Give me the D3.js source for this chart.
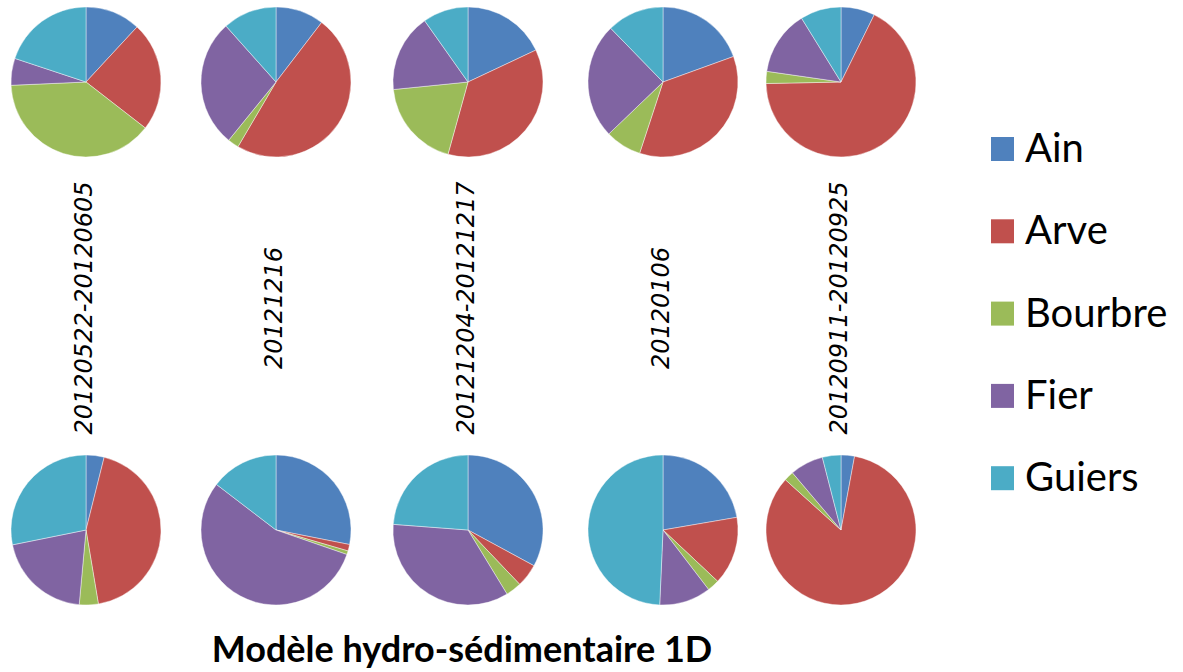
<!DOCTYPE html>
<meta charset="utf-8">
<style>
body { margin: 0; background: #fff; }
svg { display: block; }
.label {
  font: italic 24px "DejaVu Sans", Verdana, sans-serif;
  fill: #000;
}
.legend text {
  font: 40px Lato, "Open Sans", sans-serif;
  fill: #000;
}
.title {
  font: bold 36px Lato, "Open Sans", sans-serif;
  fill: #000;
}
</style>
<script src="https://d3js.org/d3.v7.min.js"></script>
<body>
<svg width="1183" height="672"></svg>
</body>
<script>

// data (percent of total)
var sources = ["Ain", "Arve", "Bourbre", "Fier", "Guiers"];
var dates = ["20120522-20120605", "20121216", "20121204-20121217", "20120106", "20120911-20120925"];

var topRow = [
  [11.9, 23.6, 38.8, 5.8, 19.9],
  [10.4, 48.0, 2.4, 27.5, 11.6],
  [18.0, 36.3, 19.1, 16.8, 9.8],
  [19.5, 35.6, 7.8, 24.9, 12.3],
  [7.3, 67.3, 2.6, 13.9, 8.8]
];

var bottomRow = [
  [3.9, 43.5, 4.1, 20.4, 28.2],
  [28.1, 1.4, 0.8, 55.1, 14.6],
  [32.9, 5.0, 3.4, 34.9, 23.8],
  [22.3, 14.7, 2.6, 11.1, 49.3],
  [2.9, 83.8, 2.1, 7.2, 4.0]
];

var colours = ["#4f81bd", "#c0504d", "#9bbb59", "#8064a2", "#4bacc6"];

// layout
var svg = d3.select("svg"),
    radius = 75,
    colX = [86, 276, 468, 663, 841],
    rowY = [82, 530],
    labelY = 308;

var color = d3.scaleOrdinal().domain(sources).range(colours);

var pie = d3.pie()
    .sort(null)
    .value(function(d) { return d; });

var arc = d3.arc()
    .innerRadius(0)
    .outerRadius(radius);

[topRow, bottomRow].forEach(function(row, r) {
  row.forEach(function(vals, i) {
    var g = svg.append("g")
        .attr("transform", "translate(" + colX[i] + "," + rowY[r] + ")");

    g.selectAll("path")
      .data(pie(vals))
      .enter().append("path")
        .attr("d", arc)
        .style("fill", function(d, j) { return color(sources[j]); })
        .style("stroke", "#fff")
        .style("stroke-width", 0.7)
        .style("stroke-opacity", 0.6);
  });
});

// rotated date labels between the rows
svg.selectAll("text.label")
  .data(dates)
  .enter().append("text")
    .attr("class", "label")
    .attr("text-anchor", "middle")
    .attr("transform", function(d, i) { return "translate(" + (colX[i] + 6) + "," + labelY + ") rotate(-90)"; })
    .text(function(d) { return d; });

// legend
var legend = svg.append("g")
    .attr("class", "legend")
    .attr("transform", "translate(991,137)");

var item = legend.selectAll("g")
  .data(sources)
  .enter().append("g")
    .attr("transform", function(d, i) { return "translate(0," + (i * 82.3) + ")"; });

item.append("rect")
    .attr("width", 23)
    .attr("height", 24)
    .style("fill", function(d) { return color(d); });

item.append("text")
    .attr("x", 34)
    .attr("y", 25)
    .text(function(d) { return d; });

svg.append("text")
    .attr("class", "title")
    .attr("x", 462)
    .attr("y", 662)
    .attr("text-anchor", "middle")
    .text("Modèle hydro-sédimentaire 1D");

</script>
